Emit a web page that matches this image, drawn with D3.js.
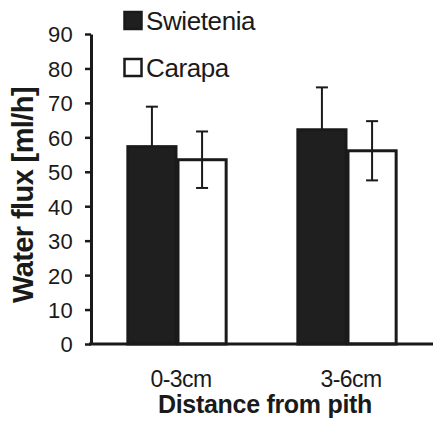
<!DOCTYPE html>
<html>
<head>
<meta charset="utf-8">
<script src="https://cdn.jsdelivr.net/npm/d3@7"></script>
<style>
  body { margin: 0; background: #fff; }
  svg, svg text { font-family: "Liberation Sans", Arial, sans-serif; }
</style>
</head>
<body>
<svg id="chart"></svg>
<script>
// data
const categories = ["0-3cm", "3-6cm"];
const series = ["Swietenia", "Carapa"];
const swietenia = [57.3, 62.2];
const swieteniaErr = [11.6, 12.3];
const carapa = [53.5, 56.1];
const carapaErr = [8.2, 8.6];
const yTicks = [0, 10, 20, 30, 40, 50, 60, 70, 80, 90];

const w = 433, h = 427;
const svg = d3.select("#chart").attr("width", w).attr("height", h);

const y = d3.scaleLinear().domain([0, 90]).range([344, 34]);
const x = d3.scaleBand().domain(categories).range([92, 432])
  .paddingInner(0.41).paddingOuter(0.205);
const xs = d3.scaleBand().domain(series).range([0, x.bandwidth()]);

const fills = { Swietenia: "#1f1f1f", Carapa: "#fff" };
const rows = [];
categories.forEach((c, i) => {
  rows.push({ cat: c, s: "Swietenia", v: swietenia[i], e: swieteniaErr[i] });
  rows.push({ cat: c, s: "Carapa", v: carapa[i], e: carapaErr[i] });
});

// bars
svg.selectAll("rect.bar")
  .data(rows)
  .enter()
  .append("rect")
  .attr("class", "bar")
  .attr("x", d => x(d.cat) + xs(d.s) + 1)
  .attr("y", d => y(d.v))
  .attr("width", xs.bandwidth() - 2)
  .attr("height", d => y(0) - y(d.v))
  .attr("fill", d => fills[d.s])
  .attr("stroke", "#1a1a1a")
  .attr("stroke-width", 3);

// error bars
const err = svg.append("g").attr("stroke", "#1a1a1a").attr("stroke-width", 2);
rows.forEach(d => {
  const cx = x(d.cat) + xs(d.s) + xs.bandwidth() / 2;
  const top = y(d.v + d.e);
  const bot = d.s === "Carapa" ? y(d.v - d.e) : y(d.v);
  err.append("line").attr("x1", cx).attr("x2", cx).attr("y1", top).attr("y2", bot);
  err.append("line").attr("x1", cx - 6).attr("x2", cx + 6).attr("y1", top).attr("y2", top);
  if (d.s === "Carapa")
    err.append("line").attr("x1", cx - 6).attr("x2", cx + 6).attr("y1", bot).attr("y2", bot);
});

// y axis
const yAxis = d3.axisLeft(y).tickValues(yTicks).tickSize(6).tickSizeOuter(0).tickPadding(12);
const gy = svg.append("g").attr("transform", "translate(91,0)").call(yAxis)
  .attr("font-family", null).attr("font-size", 22);
gy.select(".domain").attr("stroke", "#1a1a1a").attr("stroke-width", 3);
gy.selectAll(".tick line").attr("stroke", "#1a1a1a").attr("stroke-width", 2.5);
gy.selectAll(".tick text").attr("font-size", 22).attr("fill", "#1a1a1a")
  .attr("dy", "0.36em").attr("letter-spacing", 0.3);

// baseline
svg.append("line")
  .attr("x1", 89).attr("x2", w)
  .attr("y1", y(0)).attr("y2", y(0))
  .attr("stroke", "#1a1a1a").attr("stroke-width", 3);

// x labels
svg.selectAll("text.cat")
  .data(categories)
  .enter()
  .append("text")
  .attr("class", "cat")
  .attr("x", d => x(d) + x.bandwidth() / 2 + 4)
  .attr("y", 387)
  .attr("text-anchor", "middle")
  .attr("font-size", 23)
  .attr("letter-spacing", -0.6)
  .attr("fill", "#1a1a1a")
  .text(d => d);

svg.append("text")
  .attr("x", 265).attr("y", 413)
  .attr("text-anchor", "middle")
  .attr("font-size", 25).attr("font-weight", "bold")
  .attr("letter-spacing", -0.3)
  .attr("fill", "#1a1a1a")
  .text("Distance from pith");

svg.append("text")
  .attr("transform", "translate(33,195) rotate(-90)")
  .attr("text-anchor", "middle")
  .attr("font-size", 29).attr("font-weight", "bold")
  .attr("letter-spacing", -0.6)
  .attr("fill", "#1a1a1a")
  .text("Water flux [ml/h]");

// legend
const leg = svg.selectAll("g.leg")
  .data(series)
  .enter()
  .append("g")
  .attr("class", "leg")
  .attr("transform", (d, i) => `translate(123,${11 + i * 47})`);
leg.append("rect")
  .attr("x", 1.5).attr("y", 1).attr("width", 17).attr("height", 17)
  .attr("fill", d => fills[d])
  .attr("stroke", "#1a1a1a").attr("stroke-width", 2.5);
leg.append("text")
  .attr("x", 23).attr("y", 19)
  .attr("font-size", 26)
  .attr("letter-spacing", -0.4)
  .attr("fill", "#1a1a1a")
  .text(d => d);
</script>
</body>
</html>
